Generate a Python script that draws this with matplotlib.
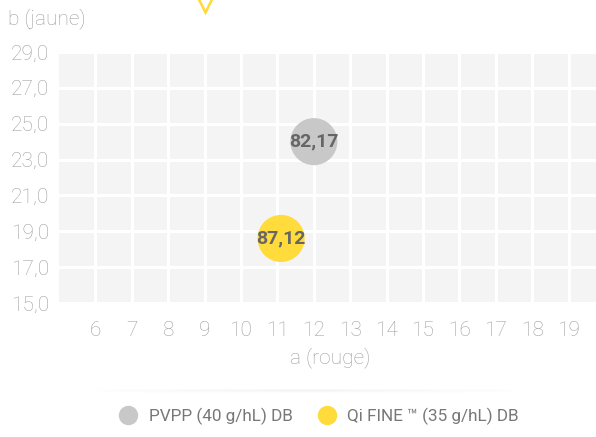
import numpy as np
import matplotlib.pyplot as plt
from matplotlib.lines import Line2D

# data
series = ["PVPP (40 g/hL) DB", "Qi FINE ™ (35 g/hL) DB"]
a_rouge = [12.0, 11.1]
b_jaune = [24.0, 18.6]
point_labels = ["82,17", "87,12"]
colors = ["#c8c8c8", "#ffdb3b"]

x_ticks = list(range(6, 20))
y_ticks = [15, 17, 19, 21, 23, 25, 27, 29]

plt.rcParams["font.family"] = ["Roboto", "DejaVu Sans"]
tick_col = "#9f9f9f"

fig = plt.figure(figsize=(5.96, 4.37), dpi=100)
ax = fig.add_axes([59 / 596, 1 - 303 / 437, 1 - 59 / 596, (303 - 52) / 437])
ax.set_facecolor("#f4f4f4")
ax.set_xlim(5, 19.75)
ax.set_ylim(15, 29)
ax.set_xticks(x_ticks)
ax.set_yticks(y_ticks)
ax.set_yticklabels([f"{v},0" for v in y_ticks])
ax.grid(True, color="white", linewidth=2.2)
ax.set_axisbelow(True)
for s in ax.spines.values():
    s.set_visible(False)
ax.tick_params(length=0, labelsize=15, labelcolor=tick_col, pad=7)
for lab in ax.get_xticklabels() + ax.get_yticklabels():
    lab.set_fontweight("light")
ax.tick_params(axis="x", pad=13)

ax.scatter(a_rouge, b_jaune, s=1150, c=colors, zorder=3, linewidths=0)
for x, y, t in zip(a_rouge, b_jaune, point_labels):
    ax.text(x, y, t, ha="center", va="center", fontsize=14, fontweight="bold",
            color="#666666", zorder=4)

fig.text(8 / 596, 1 - 19 / 437, "b (jaune)", fontsize=15, color=tick_col,
         fontweight="light", va="center", ha="left")
fig.text(330 / 596, 1 - 358 / 437, "a (rouge)", fontsize=15, color=tick_col,
         fontweight="light", va="center", ha="center")

# partly hidden marker at the top
fig.add_artist(Line2D([205 / 596], [1 - 0 / 437], marker="v", markersize=17,
                      markerfacecolor="white", markeredgecolor="#ffd935",
                      markeredgewidth=1.8, transform=fig.transFigure))

# soft shadow above the legend, fading at both ends
xs = np.linspace(85, 525, 45)
for x0, x1 in zip(xs[:-1], xs[1:]):
    mid = (x0 + x1) / 2
    fade = 1 - abs(mid - 305) / 220
    for i, al in enumerate([0.06, 0.04, 0.02]):
        fig.add_artist(Line2D([x0 / 596, x1 / 596], [1 - (390 + i) / 437] * 2,
                              color="#777777", alpha=al * fade, linewidth=1.2,
                              solid_capstyle="butt", transform=fig.transFigure))

handles = [Line2D([], [], marker="o", linestyle="", markersize=14,
                  markerfacecolor=c, markeredgewidth=0) for c in colors]
leg = fig.legend(handles, series, loc="center", bbox_to_anchor=(315 / 596, 1 - 416 / 437),
                 ncol=2, frameon=False, fontsize=12.3, handletextpad=0.2,
                 columnspacing=1.0, labelcolor="#777777")

fig.savefig("out.png", dpi=100)
